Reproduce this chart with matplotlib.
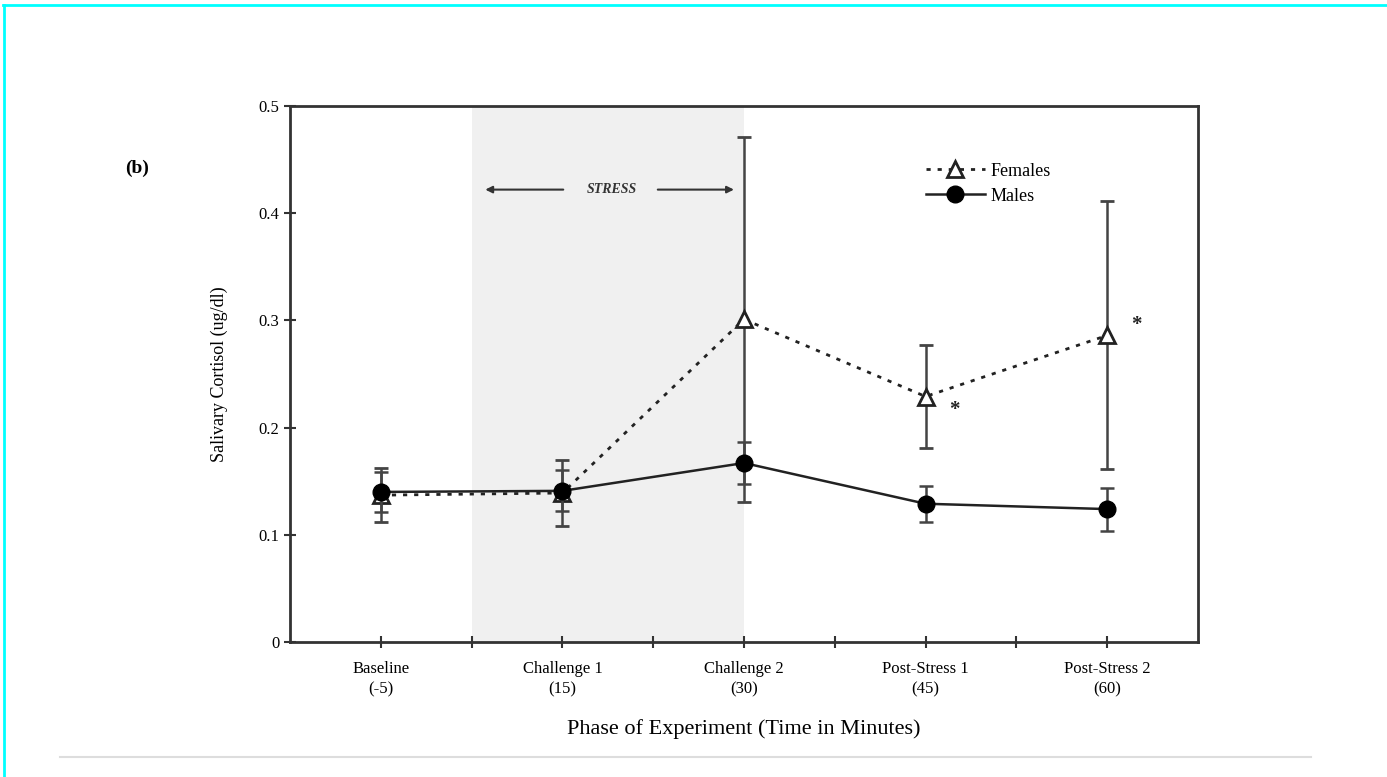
import matplotlib.pyplot as plt
from matplotlib.lines import Line2D

# data
phases = ["Baseline\n(-5)", "Challenge 1\n(15)", "Challenge 2\n(30)",
          "Post-Stress 1\n(45)", "Post-Stress 2\n(60)"]
females = [0.137, 0.139, 0.301, 0.229, 0.286]
females_err = [0.025, 0.031, 0.170, 0.048, 0.125]
males = [0.140, 0.141, 0.167, 0.129, 0.124]
males_err = [0.019, 0.019, 0.020, 0.017, 0.020]
star_points = [3, 4]

plt.rcParams["font.family"] = ["Liberation Serif", "DejaVu Serif"]

fig = plt.figure(figsize=(13.87, 7.77), dpi=100)
ax = fig.add_axes([0.2091, 0.1737, 0.6546, 0.6899])

x = list(range(len(phases)))

# stress period shading
ax.axvspan(0.5, 2.0, color="#f0f0f0", zorder=0, lw=0)

fem_style = dict(color="#222222", lw=2, linestyle=(0, (1.5, 2.5)), marker="^",
                 markersize=12, markerfacecolor="white",
                 markeredgecolor="#222222", markeredgewidth=2)
male_style = dict(color="#222222", lw=1.8, linestyle="-", marker="o",
                  markersize=12, markerfacecolor="black", markeredgecolor="black")

ax.errorbar(x, females, yerr=females_err, ecolor="#444444", elinewidth=1.8,
            capsize=5, capthick=1.8, zorder=3, **fem_style)
ax.errorbar(x, males, yerr=males_err, ecolor="#444444", elinewidth=1.8,
            capsize=5, capthick=1.8, zorder=4, **male_style)

for i in star_points:
    ax.text(i + 0.16, females[i] - 0.013 if i == 3 else females[i] + 0.010, "*",
            fontsize=15, fontweight="bold", ha="center", va="center", color="#222222")

# stress arrow
ax.annotate("", xy=(0.56, 0.422), xytext=(1.02, 0.422),
            arrowprops=dict(arrowstyle="-|>", color="#333333", lw=1.5))
ax.annotate("", xy=(1.96, 0.422), xytext=(1.51, 0.422),
            arrowprops=dict(arrowstyle="-|>", color="#333333", lw=1.5))
ax.text(1.27, 0.422, "STRESS", fontsize=10, fontweight="bold", style="italic",
        ha="center", va="center", color="#333333")

ax.set_xlim(-0.5, 4.5)
ax.set_ylim(0, 0.5)
ax.set_xticks(x)
ax.set_xticklabels(phases, fontsize=12, linespacing=1.3)
ax.set_xticks([0.5, 1.5, 2.5, 3.5], minor=True)
ax.set_yticks([0, 0.1, 0.2, 0.3, 0.4, 0.5])
ax.set_yticklabels(["0", "0.1", "0.2", "0.3", "0.4", "0.5"], fontsize=12)
ax.tick_params(axis="both", which="both", direction="inout", length=8,
               width=1.5, color="#333333")
ax.tick_params(axis="x", pad=10)
for s in ax.spines.values():
    s.set_linewidth(2)
    s.set_color("#333333")

ax.set_ylabel("Salivary Cortisol (ug/dl)", fontsize=13, labelpad=22)
ax.set_xlabel("Phase of Experiment (Time in Minutes)", fontsize=16, labelpad=16)

handles = [Line2D([], [], **fem_style), Line2D([], [], **male_style)]
ax.legend(handles, ["Females", "Males"], loc="center left",
          bbox_to_anchor=(0.69, 0.855), frameon=False, fontsize=13,
          handlelength=3.3, borderpad=0, labelspacing=0.45, handletextpad=0.3)

fig.text(0.099, 0.783, "(b)", fontsize=14, fontweight="bold", ha="center", va="center")

# page border and rule from the screenshot
fig.add_artist(Line2D([0.002, 1.0], [0.994, 0.994], color="#00ffff", lw=2))
fig.add_artist(Line2D([0.003, 0.003], [0.0, 0.994], color="#00ffff", lw=2))
fig.add_artist(Line2D([0.043, 0.945], [0.026, 0.026], color="#dddddd", lw=1.5))

fig.savefig("out.png", dpi=100)
